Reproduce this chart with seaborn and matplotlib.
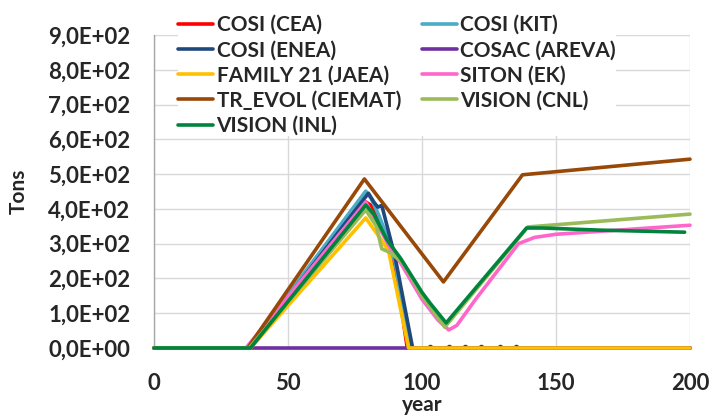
import numpy as np
import pandas as pd
import seaborn as sns
import matplotlib.pyplot as plt
from matplotlib.lines import Line2D
from matplotlib.ticker import FuncFormatter

# series: (year, tons)
cosi_cea_x = [0, 35, 79, 81, 84, 87, 90, 94.5, 200]
cosi_cea_y = [0, 0, 420, 410, 370, 310, 235, 0, 0]

cosi_kit_x = [0, 35, 79, 81, 84, 87, 90, 95.5, 200]
cosi_kit_y = [0, 0, 451, 430, 380, 320, 245, 0, 0]

cosi_enea_x = [0, 35.5, 80, 82, 83.5, 85, 87, 90, 96.5, 200]
cosi_enea_y = [0, 0, 445, 420, 405, 410, 350, 260, 0, 0]
enea_dots_x = [103, 110, 116, 122, 129, 135]
enea_dots_y = [4, 4, 4, 4, 4, 4]

cosac_x = [0, 200]
cosac_y = [0, 0]

family_x = [0, 36, 79, 84, 87.5, 95, 200]
family_y = [0, 0, 374, 320, 280, 0, 0]

siton_x = [0, 34.3, 79, 83, 88, 92, 100, 106, 110, 113, 120, 130, 136, 142, 150, 200]
siton_y = [0, 0, 420, 360, 290, 245, 140, 80, 52, 65, 140, 240, 300, 318, 327, 353]

trevol_x = [0, 35, 78.5, 108, 137.5, 200]
trevol_y = [0, 0, 486, 190, 498, 543]

vision_cnl_x = [0, 35.5, 79, 83, 84.5, 85, 88, 93, 100, 108.5, 139.5, 200]
vision_cnl_y = [0, 0, 397, 350, 300, 285, 275, 244, 150, 60, 348, 385]

vision_inl_x = [0, 36, 79, 82, 87, 92, 100, 103, 109, 139, 145, 166, 198]
vision_inl_y = [0, 0, 411, 385, 310, 258, 160, 129, 72, 345, 345, 339, 333]

names = ['COSI (CEA)', 'COSI (KIT)', 'COSI (ENEA)', 'COSAC (AREVA)', 'FAMILY 21 (JAEA)',
         'SITON (EK)', 'TR_EVOL (CIEMAT)', 'VISION (CNL)', 'VISION (INL)']
colors = ['#FF0000', '#4BACC6', '#1F497D', '#7030A0', '#FFC000',
          '#FF66CC', '#984807', '#9BBB59', '#00843D']
xs = [cosi_cea_x, cosi_kit_x, cosi_enea_x, cosac_x, family_x,
      siton_x, trevol_x, vision_cnl_x, vision_inl_x]
ys = [cosi_cea_y, cosi_kit_y, cosi_enea_y, cosac_y, family_y,
      siton_y, trevol_y, vision_cnl_y, vision_inl_y]

df = pd.concat([pd.DataFrame({'year': x, 'tons': y, 'series': n})
                for n, x, y in zip(names, xs, ys)], ignore_index=True)

sns.set_style('white')
plt.rcParams['font.family'] = ['Lato', 'DejaVu Sans']
plt.rcParams['font.weight'] = 'bold'

fig = plt.figure(figsize=(7.1, 4.2), dpi=100)
ax = fig.add_axes([154 / 710, 72 / 420, 536 / 710, 313 / 420])

# ENEA residual points sit under the yellow line
ax.scatter(enea_dots_x, enea_dots_y, s=16, color='#1F497D', zorder=2, linewidths=0)

sns.lineplot(data=df, x='year', y='tons', hue='series', hue_order=names,
             palette=dict(zip(names, colors)), estimator=None, sort=False,
             linewidth=2.6, legend=False, ax=ax, zorder=3)
for ln in ax.lines:
    ln.set_clip_on(False)
    ln.set_solid_joinstyle('round')

ax.set_xlim(0, 200)
ax.set_ylim(0, 900)
ax.set_xticks([0, 50, 100, 150, 200])
ax.set_yticks(np.arange(0, 901, 100))
ax.yaxis.set_major_formatter(FuncFormatter(lambda v, p: f'{v:.1E}'.replace('.', ',')))
ax.grid(True, color='#D9D9D9', linewidth=1)
ax.set_axisbelow(True)

for s in ['top', 'right']:
    ax.spines[s].set_visible(False)
for s in ['left', 'bottom']:
    ax.spines[s].set_color('#A6A6A6')
    ax.spines[s].set_linewidth(1)

ax.tick_params(axis='y', direction='inout', length=10, width=1, color='#A6A6A6',
               pad=12, labelsize=16)
ax.tick_params(axis='x', direction='out', length=5, width=1, color='#A6A6A6',
               pad=13, labelsize=16)
for lab in ax.get_xticklabels() + ax.get_yticklabels():
    lab.set_fontweight('bold')

ax.set_xlabel('year', fontsize=15, fontweight='bold', labelpad=1)
ax.set_ylabel('Tons', fontsize=15, fontweight='bold', labelpad=14)

# legend in rows of two, like the original
order = [0, 2, 4, 6, 8, 1, 3, 5, 7]
handles = [Line2D([], [], color=colors[i], linewidth=2.6) for i in order]
labels = [names[i] for i in order]
fig.legend(handles, labels, ncol=2, loc='upper left',
           bbox_to_anchor=(178 / 710, 1 - 15 / 420), bbox_transform=fig.transFigure,
           frameon=True, facecolor='white', edgecolor='none', framealpha=1,
           borderpad=0, borderaxespad=0, handlelength=1.7, handletextpad=0.15,
           columnspacing=1.0, labelspacing=0.25, prop={'size': 15, 'weight': 'bold'})

fig.savefig('out.png', dpi=100)
